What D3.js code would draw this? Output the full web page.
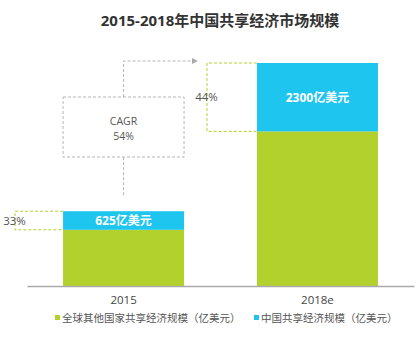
<!DOCTYPE html>
<html><head><meta charset="utf-8">
<script src="https://cdn.jsdelivr.net/npm/d3@7"></script>
<style>
body{margin:0;background:#fff;}
text{font-family:"Open Sans","Noto Sans CJK SC",sans-serif;}
</style></head>
<body><svg id="c" width="419" height="358"></svg>
<script>
const title = "2015-2018年中国共享经济市场规模";
const categories = ["2015", "2018e"];
const otherValues = [1890, 5200];
const chinaValues = [625, 2300];
const barLabels = ["625亿美元", "2300亿美元"];
const shareLabels = ["33%", "44%"];
const cagrLabel = ["CAGR", "54%"];
const seriesNames = ["全球其他国家共享经济规模（亿美元）", "中国共享经济规模（亿美元）"];
const colors = ["#b3d12c", "#1dc5ef"];

const svg = d3.select("#c");
const x = d3.scaleBand().domain(categories).range([27, 414]).paddingInner(0.376).paddingOuter(0.186);
const y = d3.scaleLinear().domain([0, 7500]).range([286, 63]);

svg.append("text").attr("x", 220).attr("y", 26).attr("text-anchor", "middle")
  .attr("font-size", 15).attr("font-weight", "bold").attr("fill", "#333").text(title);

// bars
const data = categories.map((c, i) => ({c, o: otherValues[i], ch: chinaValues[i], label: barLabels[i]}));
svg.selectAll(".o").data(data).join("rect")
  .attr("x", d => x(d.c)).attr("width", x.bandwidth())
  .attr("y", d => y(d.o)).attr("height", d => y(0) - y(d.o)).attr("fill", colors[0]);
svg.selectAll(".ch").data(data).join("rect")
  .attr("x", d => x(d.c)).attr("width", x.bandwidth())
  .attr("y", d => y(d.o + d.ch)).attr("height", d => y(d.o) - y(d.o + d.ch)).attr("fill", colors[1]);
svg.selectAll(".bl").data(data).join("text")
  .attr("x", d => x(d.c) + x.bandwidth() / 2)
  .attr("y", d => (y(d.o) + y(d.o + d.ch)) / 2 + 4.5)
  .attr("text-anchor", "middle").attr("font-size", 12).attr("font-weight", "bold")
  .attr("fill", "#fff").text(d => d.label);

// axis
const axis = svg.append("g").attr("transform", `translate(0,${y(0)})`)
  .call(d3.axisBottom(x).tickSize(0).tickPadding(10));
axis.select(".domain").attr("stroke", "#aaa").attr("stroke-width", 1.5);
axis.selectAll("text").attr("font-size", 11.5).attr("fill", "#444")
  .attr("font-family", "'Open Sans','Noto Sans CJK SC',sans-serif");

// share boxes (green dashed)
const gd = "#b3d12c", gr = "#b5b5b5";
const boxLeft = [15, 207];
data.forEach((d, i) => {
  const x0 = boxLeft[i], x1 = x(d.c), yt = y(d.o + d.ch), yb = y(d.o);
  svg.append("path").attr("d", `M${x1},${yt}H${x0}V${yb}H${x1}`)
    .attr("fill", "none").attr("stroke", gd).attr("stroke-width", 1).attr("stroke-dasharray", "3,2");
  svg.append("text").attr("x", x0 - 0.5).attr("y", (yt + yb) / 2 + 4).attr("text-anchor", "middle")
    .attr("font-size", 11.5).attr("fill", "#555").text(shareLabels[i]);
});

// CAGR box
const cx = x(categories[0]) + x.bandwidth() / 2;
svg.append("rect").attr("x", x(categories[0])).attr("y", 97).attr("width", x.bandwidth()).attr("height", 60)
  .attr("fill", "none").attr("stroke", gr).attr("stroke-width", 1).attr("stroke-dasharray", "3,2");
svg.append("text").attr("x", cx).attr("y", 124.5).attr("text-anchor", "middle")
  .attr("font-size", 10.5).attr("fill", "#555").text(cagrLabel[0]);
svg.append("text").attr("x", cx).attr("y", 139.5).attr("text-anchor", "middle")
  .attr("font-size", 10.5).attr("fill", "#555").text(cagrLabel[1]);
svg.append("path").attr("d", `M${cx},${y(data[0].o + data[0].ch) - 16}V157`)
  .attr("fill", "none").attr("stroke", gr).attr("stroke-width", 1).attr("stroke-dasharray", "3,2");
svg.append("path").attr("d", `M${cx},97V61H193`)
  .attr("fill", "none").attr("stroke", gr).attr("stroke-width", 1).attr("stroke-dasharray", "3,2");
svg.append("path").attr("d", "M192,58L198,61L192,64Z").attr("fill", "#aaa");

// legend
const lg = [{x: 55, t: seriesNames[0], c: colors[0]}, {x: 254, t: seriesNames[1], c: colors[1]}];
lg.forEach(l => {
  svg.append("rect").attr("x", l.x).attr("y", 315).attr("width", 5).attr("height", 5).attr("fill", l.c);
  svg.append("text").attr("x", l.x + 7).attr("y", 321.5).attr("font-size", 10.5).attr("fill", "#555").text(l.t);
});
</script></body></html>
